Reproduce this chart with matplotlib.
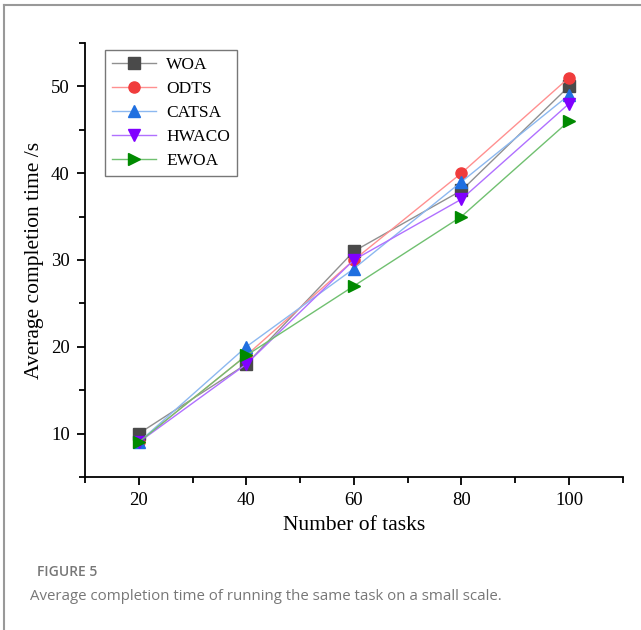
import numpy as np
import matplotlib.pyplot as plt
from matplotlib.ticker import MultipleLocator

# data
tasks = [20, 40, 60, 80, 100]
woa = [10, 18, 31, 38, 50]
odts = [9, 19, 30, 40, 51]
catsa = [9, 20, 29, 39, 49]
hwaco = [9, 18, 30, 37, 48]
ewoa = [9, 19, 27, 35, 46]

names = ["WOA", "ODTS", "CATSA", "HWACO", "EWOA"]
series = [woa, odts, catsa, hwaco, ewoa]
markers = ["s", "o", "^", "v", ">"]
mcolors = ["#4a4a4a", "#f03c3c", "#1f6fe0", "#8000ff", "#008a00"]
lcolors = ["#909090", "#ff9090", "#8cb8f0", "#b070ff", "#70c070"]

serif = "Liberation Serif"

fig = plt.figure(figsize=(6.41, 6.30), dpi=100)
ax = fig.add_axes([0.1326, 0.2429, 0.839, 0.689])

for name, y, m, mc, lc in zip(names, series, markers, mcolors, lcolors):
    ax.plot(tasks, y, color=lc, lw=1.0, marker=m, markersize=8,
            markerfacecolor=mc, markeredgecolor=mc, label=name)

ax.set_xlim(10, 110)
ax.set_ylim(5, 55)
ax.xaxis.set_major_locator(MultipleLocator(20))
ax.xaxis.set_minor_locator(MultipleLocator(10))
ax.yaxis.set_major_locator(MultipleLocator(10))
ax.yaxis.set_minor_locator(MultipleLocator(5))
ax.spines["top"].set_visible(False)
ax.spines["right"].set_visible(False)
for s in ["left", "bottom"]:
    ax.spines[s].set_linewidth(1.3)
ax.tick_params(which="major", direction="out", length=6, width=1.3, pad=5)
ax.tick_params(which="minor", direction="out", length=4, width=1.3)
for lab in ax.get_xticklabels() + ax.get_yticklabels():
    lab.set_fontfamily(serif)
    lab.set_fontsize(13.5)

ax.set_xlabel("Number of tasks", fontfamily=serif, fontsize=15.5, labelpad=5)
ax.set_ylabel("Average completion time /s", fontfamily=serif, fontsize=15.5, labelpad=5)

leg = ax.legend(loc="upper left", bbox_to_anchor=(0.025, 1.0), frameon=True,
                fancybox=False, edgecolor="#555555", handlelength=2.5,
                handletextpad=0.6, prop={"family": serif, "size": 12.5},
                borderpad=0.4, labelspacing=0.45, borderaxespad=0.4)
leg.get_frame().set_linewidth(1.0)

# caption
fig.text(37 / 641, 1 - 572 / 630, "FIGURE 5", fontfamily="Open Sans",
         fontsize=10, color="#777777", fontweight="semibold", va="center")
fig.text(30 / 641, 1 - 597 / 630,
         "Average completion time of running the same task on a small scale.",
         fontfamily="Open Sans", fontsize=10.8, color="#777777", va="center")

# frame lines on top and left
fig.add_artist(plt.Line2D([4 / 641, 1], [1 - 5 / 630, 1 - 5 / 630],
                          color="#999999", lw=1.5, transform=fig.transFigure))
fig.add_artist(plt.Line2D([4 / 641, 4 / 641], [0, 1 - 5 / 630],
                          color="#999999", lw=1.5, transform=fig.transFigure))

fig.savefig("out.png", dpi=100)
